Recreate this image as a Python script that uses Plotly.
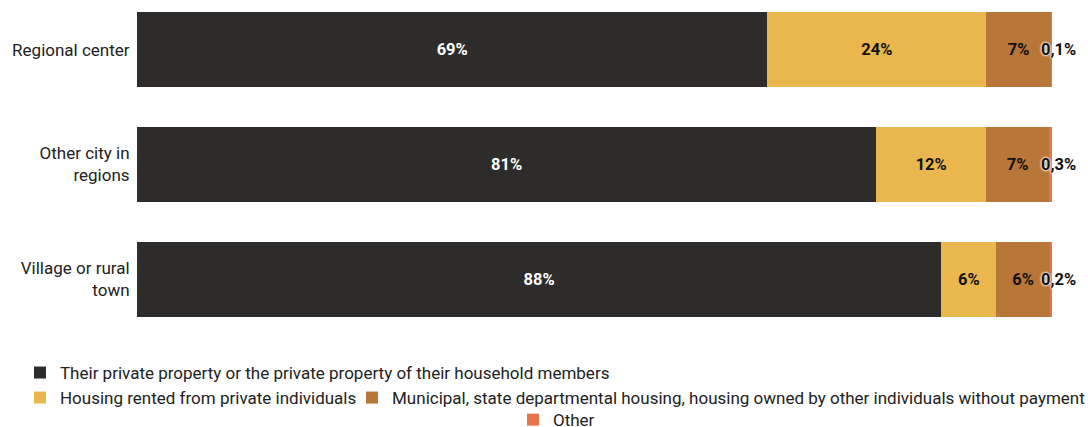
import plotly.graph_objects as go

categories = ["Regional center", "Other city in<br>regions", "Village or rural<br>town"]
series_names = [
    "Their private property or the private property of their household members",
    "Housing rented from private individuals",
    "Municipal, state departmental housing, housing owned by other individuals without payment",
    "Other",
]
own_values = [68.9, 80.8, 87.9]
rented_values = [23.9, 12.0, 6.0]
municipal_values = [7.1, 6.9, 5.9]
other_values = [0.1, 0.3, 0.2]

own_labels = ["69%", "81%", "88%"]
rented_labels = ["24%", "12%", "6%"]
municipal_labels = ["7%", "7%", "6%"]
other_labels = ["0,1%", "0,3%", "0,2%"]

colors = ["#2e2c2a", "#e9b74d", "#b97639", "#e8734c"]
text_colors = ["#ffffff", "#111111", "#111111", "#111111"]
legend_ids = ["legend", "legend2", "legend3", "legend4"]

rows = list(range(len(categories)))
values = [own_values, rented_values, municipal_values, other_values]
labels = [own_labels, rented_labels, municipal_labels, other_labels]

FONT = "Roboto, Arial, sans-serif"

fig = go.Figure()
for i, name in enumerate(series_names):
    is_other = i == 3
    fig.add_trace(go.Bar(
        name=name,
        y=rows,
        x=values[i],
        orientation="h",
        marker=dict(color=colors[i], line=dict(width=0)),
        text=None if is_other else labels[i],
        textposition="none" if is_other else "inside",
        insidetextanchor="middle",
        textangle=0,
        textfont=dict(family=FONT, size=16.5, color=text_colors[i], weight="bold"),
        legend=legend_ids[i],
        hoverinfo="skip",
    ))

totals = [round(a + b + c + d, 6) for a, b, c, d in
          zip(own_values, rented_values, municipal_values, other_values)]
for r, t, lab in zip(rows, totals, other_labels):
    fig.add_annotation(
        x=t, y=r, xref="x", yref="y", text=lab, showarrow=False,
        xanchor="center", xshift=6,
        font=dict(family=FONT, size=16.5, color="#111111", weight="bold",
                  shadow="0px 0px 2px #ffffff, 0px 0px 2px #ffffff, 0px 0px 3px #ffffff"),
    )

legend_common = dict(
    orientation="h", font=dict(family=FONT, size=17, color="#222222"),
    bgcolor="rgba(0,0,0,0)", xanchor="left", yanchor="middle",
    itemclick=False, itemdoubleclick=False, traceorder="normal",
)

fig.update_layout(
    width=1088, height=427,
    margin=dict(l=137, r=36, t=12, b=110, autoexpand=False),
    paper_bgcolor="white", plot_bgcolor="white",
    barmode="stack", bargap=0.346,
    showlegend=True,
    font=dict(family=FONT, size=17, color="#222222"),
    xaxis=dict(range=[0, 100], visible=False, fixedrange=True),
    yaxis=dict(
        range=[2.327, -0.327], tickvals=rows, ticktext=categories,
        showgrid=False, zeroline=False, showline=False,
        ticks="outside", ticklen=3, tickcolor="rgba(0,0,0,0)",
        tickfont=dict(family=FONT, size=17, color="#222222"), fixedrange=True,
    ),
    legend=dict(x=-0.1279, y=-0.1836, **legend_common),
    legend2=dict(x=-0.1279, y=-0.2656, **legend_common),
    legend3=dict(x=0.235, y=-0.2656, entrywidth=720, entrywidthmode="pixels",
                 **legend_common),
    legend4=dict(x=0.4109, y=-0.338, **legend_common),
)

fig.write_html(
    "out.html",
    config={"displayModeBar": False},
    post_script="document.body.style.margin='0';document.body.style.overflow='hidden';",
)
